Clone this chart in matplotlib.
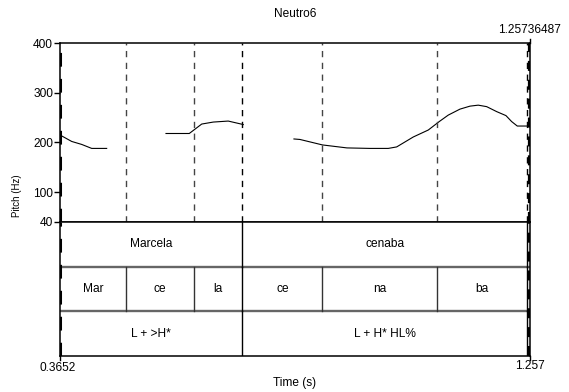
import matplotlib
matplotlib.use('Agg')
import matplotlib.pyplot as plt

# ── data ──────────────────────────────────────────────────────────────────────
T_START, T_END = 0.3652, 1.25736487

seg1_t = [0.3652, 0.3874, 0.4064, 0.4254, 0.4538]
seg1_f = [215, 202, 196, 188, 188]
seg2_t = [0.5664, 0.6106, 0.6342, 0.6562, 0.6846, 0.7131]
seg2_f = [218, 218, 237, 241, 243, 236]
seg3_t = [0.8093, 0.8207, 0.8634, 0.9099, 0.9536, 0.9883, 1.0043, 1.0358,
          1.0643, 1.0851, 1.1022, 1.1244, 1.1434, 1.1591, 1.1751, 1.1941,
          1.2117, 1.2225, 1.2332, 1.2510]
seg3_f = [207, 206, 195, 189, 188, 188, 191, 211, 225, 242, 255, 267, 273,
          275, 272, 262, 254, 242, 233, 233]

pitch_ticks = [40, 100, 200, 300, 400]

words = ['Marcela', 'cenaba']
word_bounds = [0.3652, 0.7116, 1.2516]
syllables = ['Mar', 'ce', 'la', 'ce', 'na', 'ba']
syl_bounds = [0.3652, 0.4905, 0.6195, 0.7116, 0.8634, 1.0807, 1.2516]
tones = ['L + >H*', 'L + H* HL%']
tone_bounds = [0.3652, 0.7116, 1.2516]

# ── figure ────────────────────────────────────────────────────────────────────
plt.rcParams['font.family'] = ['Liberation Sans', 'DejaVu Sans']
FS = 8.6
fig = plt.figure(figsize=(5.69, 3.92), dpi=100)
W, H = 569, 392
L, R, TOP, MID, BOT = 60, 530, 43, 222, 356

ax = fig.add_axes([L / W, 1 - MID / H, (R - L) / W, (MID - TOP) / H])
tx = fig.add_axes([L / W, 1 - BOT / H, (R - L) / W, (BOT - MID) / H], sharex=ax)

DASH = (0, (4.5, 4))

# pitch panel
for t, f in [(seg1_t, seg1_f), (seg2_t, seg2_f), (seg3_t, seg3_f)]:
    ax.plot(t, f, color='black', lw=0.8)
for b in syl_bounds[1:]:
    c = 'black' if b in word_bounds else '#444444'
    ax.axvline(b, color=c, lw=1.0, ls=DASH)
ax.axvline(T_START, color='black', lw=2.2, ls=DASH)
ax.axvline(T_END - 0.0012, color='black', lw=1.6, ls=DASH)
ax.set_xlim(T_START, T_END)
ax.set_ylim(40, 400)
ax.set_yticks(pitch_ticks)
ax.set_yticklabels([str(v) for v in pitch_ticks], fontsize=FS)
ax.tick_params(axis='y', direction='out', length=4, width=1, pad=1)
ax.tick_params(axis='x', bottom=False, labelbottom=False)
for sp in ax.spines.values():
    sp.set_linewidth(1.1)

# tiers
tx.set_ylim(0, 3)
tx.set_yticks([])
tx.tick_params(axis='x', bottom=False, labelbottom=False)
for sp in tx.spines.values():
    sp.set_linewidth(1.1)
tx.axhline(1, color='#666666', lw=1.7)
tx.axhline(2, color='#666666', lw=1.7)

def draw_tier(labels, bounds, y0):
    for b in bounds[1:]:
        c = 'black' if b in word_bounds else '#333333'
        tx.plot([b, b], [y0, y0 + 1], color=c, lw=1.0)
    for lab, a, b in zip(labels, bounds[:-1], bounds[1:]):
        tx.text((a + b) / 2, y0 + 0.5, lab, ha='center', va='center', fontsize=FS)

draw_tier(words, word_bounds, 2)
draw_tier(syllables, syl_bounds, 1)
draw_tier(tones, tone_bounds, 0)
tx.axvline(T_START, color='black', lw=2.2, ls=DASH)
tx.axvline(T_END - 0.0012, color='black', lw=1.6, ls=DASH)

# annotations around the frame
fig.text(295 / W, 1 - 14 / H, 'Neutro6', ha='center', va='center', fontsize=FS)
fig.text(529 / W, 1 - 30 / H, '1.25736487', ha='center', va='center', fontsize=FS)
fig.add_artist(plt.Line2D([R / W, R / W], [1 - 43 / H, 1 - 39 / H], color='black', lw=1))
fig.text(58 / W, 1 - 368 / H, '0.3652', ha='center', va='center', fontsize=FS)
fig.text(530 / W, 1 - 366 / H, '1.257', ha='center', va='center', fontsize=FS)
fig.add_artist(plt.Line2D([L / W, L / W], [1 - 356 / H, 1 - 360 / H], color='black', lw=1))
fig.add_artist(plt.Line2D([R / W, R / W], [1 - 356 / H, 1 - 360 / H], color='black', lw=1))
fig.text(295 / W, 1 - 383 / H, 'Time (s)', ha='center', va='center', fontsize=FS)
fig.text(17 / W, 1 - 196 / H, 'Pitch (Hz)', ha='center', va='center',
         rotation=90, fontsize=7)

fig.savefig('out.png', dpi=100, facecolor='white')
